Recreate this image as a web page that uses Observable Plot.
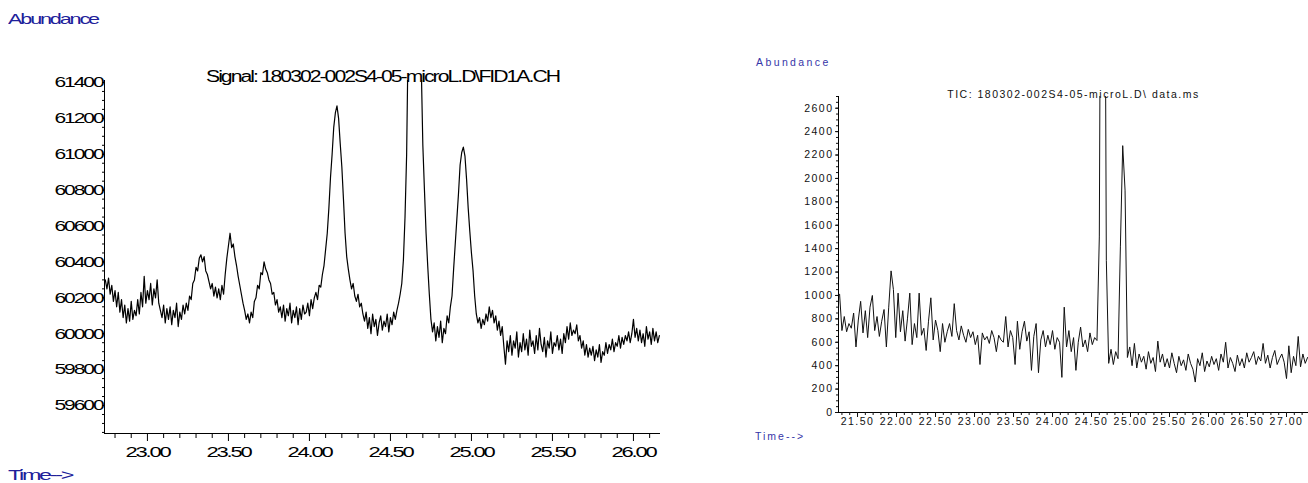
<!DOCTYPE html>
<html>
<head>
<meta charset="utf-8">
<script src="https://cdn.jsdelivr.net/npm/d3@7"></script>
<script src="https://cdn.jsdelivr.net/npm/@observablehq/plot@0.6"></script>
<style>
  html, body { margin: 0; padding: 0; background: #fff; }
  #page { position: relative; width: 1308px; height: 483px; overflow: hidden; background: #fff; }
  #page svg { position: absolute; top: 0; overflow: visible; }
  .lab { position: absolute; white-space: nowrap; line-height: 1; font-family: "Liberation Sans", Arial, sans-serif; transform-origin: 0 50%; }
</style>
</head>
<body>
<div id="page"></div>
<script>
// ---------- FID signal (left panel) ----------
const fidTitle = "Signal: 180302-002S4-05-microL.D\\FID1A.CH";
const fidStart = 22.74;   // first sample time, min
const fidStep = 0.01;     // sampling interval, min
const fidValues = [
  60300, 60250, 60310, 60220, 60270, 60180, 60240, 60150, 60230, 60120,
  60190, 60090, 60160, 60060, 60140, 60070, 60180, 60080, 60130, 60100,
  60190, 60110, 60230, 60150, 60320, 60170, 60240, 60190, 60280, 60160,
  60250, 60200, 60300, 60170, 60130, 60090, 60160, 60060, 60140, 60080,
  60150, 60050, 60130, 60090, 60170, 60040, 60120, 60080, 60160, 60110,
  60170, 60130, 60210, 60190, 60280, 60300, 60370, 60350, 60420, 60440,
  60400, 60430, 60350, 60330, 60290, 60250, 60280, 60210, 60260, 60200,
  60250, 60190, 60270, 60220, 60330, 60420, 60490, 60560, 60480, 60500,
  60430, 60380, 60320, 60270, 60220, 60170, 60130, 60080, 60110, 60060,
  60120, 60090, 60180, 60200, 60270, 60250, 60340, 60330, 60400, 60360,
  60340, 60300, 60280, 60220, 60230, 60160, 60190, 60120, 60150, 60090,
  60160, 60070, 60140, 60100, 60170, 60060, 60130, 60090, 60150, 60050,
  60140, 60080, 60160, 60110, 60120, 60170, 60100, 60190, 60140, 60200,
  60230, 60190, 60270, 60260, 60330, 60380, 60470, 60560, 60700, 60870,
  61000, 61150, 61230, 61270, 61200, 61060, 60930, 60750, 60560, 60430,
  60360, 60300, 60250, 60280, 60210, 60180, 60220, 60150, 60170, 60110,
  60070, 60120, 60030, 60090, 60000, 60110, 60040, 60080, 59990, 60060,
  60100, 60020, 60070, 60040, 60110, 60010, 60090, 60050, 60120, 60080,
  60130, 60170, 60220, 60280, 60410, 60650, 61000, 61700, 62500, 63200,
  63600, 63700, 63400, 62700, 62000, 61500, 61050, 60800, 60560, 60380,
  60220, 60080, 60010, 60060, 59960, 60040, 59980, 60070, 59950, 60030,
  60000, 60100, 60060, 60150, 60210, 60360, 60500, 60640, 60780, 60940,
  61010, 61040, 60990, 60860, 60700, 60570, 60450, 60350, 60210, 60110,
  60060, 60090, 60030, 60080, 60050, 60110, 60070, 60150, 60090, 60130,
  60060, 60100, 60020, 60070, 59990, 60040, 59930, 59830, 59960, 59900,
  59990, 59880, 59960, 59920, 60010, 59870, 59950, 59900, 60000, 59910,
  59970, 59880, 60020, 59930, 59960, 59890, 59990, 59910, 60030, 59940,
  59900, 59980, 59870, 59960, 59920, 60010, 59890, 59950, 59930, 59990,
  59910, 59970, 59890, 60000, 59950, 60040, 59970, 60060, 59990, 60020,
  60000, 60050, 59960, 59990, 59920, 59960, 59880, 59940, 59870, 59920,
  59880, 59930, 59850, 59910, 59870, 59940, 59840, 59900, 59880, 59950,
  59890, 59940, 59910, 59970, 59900, 59950, 59930, 59990, 59920, 59980,
  59940, 59990, 59960, 60010, 59950, 60000, 60080, 59980, 60030, 59960,
  60020, 59950, 60000, 59930, 60040, 59970, 60010, 59940, 60030, 59960,
  60010, 59950, 59990
];
const fidXDomain = [22.735, 26.167];
const fidYDomain = [59444, 61411];
const fidYTicks = [59600, 59800, 60000, 60200, 60400, 60600, 60800, 61000, 61200, 61400];
const fidXTicks = [23.0, 23.5, 24.0, 24.5, 25.0, 25.5, 26.0];

// ---------- Total ion chromatogram (right panel) ----------
const ticTitle = "TIC: 180302-002S4-05-microL.D\\ data.ms";
const ticStart = 21.27;
const ticStep = 0.03;
const ticValues = [
  1010, 700, 820, 690, 760, 720, 850, 560, 790, 950,
  680, 870, 640, 900, 1000, 700, 820, 650, 780, 880,
  560, 900, 1210, 1050, 640, 1020, 690, 870, 610, 800,
  1020, 580, 760, 640, 1020, 660, 720, 530, 780, 980,
  620, 790, 700, 520, 760, 600, 690, 760, 650, 930,
  700, 620, 740, 660, 600, 710, 640, 690, 580, 660,
  410, 680, 620, 650, 590, 700, 640, 520, 660, 620,
  600, 820, 560, 700, 640, 410, 780, 540, 690, 780,
  610, 690, 360, 650, 760, 340, 620, 700, 560, 660,
  580, 700, 540, 640, 600, 300, 900, 560, 700, 520,
  640, 360, 600, 730, 560, 620, 520, 680, 580, 640,
  615, 1500, 6400, 6200, 1300, 420, 540, 410, 520, 460,
  1415, 2280, 1900, 470, 560, 400, 590, 380, 500, 430,
  480, 370, 520, 420, 470, 350, 610, 430, 500, 390,
  460, 380, 510, 420, 340, 480, 400, 450, 360, 500,
  420, 370, 260, 460, 400, 510, 350, 440, 390, 480,
  410, 460, 360, 500, 430, 600, 380, 470, 420, 350,
  490, 400, 460, 380, 510, 430, 470, 520, 410, 480,
  440, 590, 420, 490, 380, 470, 530, 410, 460, 500,
  430, 290, 570, 340, 480, 400, 650, 390, 500, 420, 470
];
const ticXDomain = [21.256, 27.282];
const ticYDomain = [0, 2700];
const ticYTicks = [0, 200, 400, 600, 800, 1000, 1200, 1400, 1600, 1800, 2000, 2200, 2400, 2600];
const ticXTicks = [21.5, 22.0, 22.5, 23.0, 23.5, 24.0, 24.5, 25.0, 25.5, 26.0, 26.5, 27.0];

const fidData = fidValues.map((v, i) => ({time: fidStart + i * fidStep, abundance: v}));
const ticData = ticValues.map((v, i) => ({time: ticStart + i * ticStep, abundance: v}));

const fmt2 = d => d.toFixed(2);
const page = document.getElementById("page");

// ---------- left chart ----------
const fidPlot = Plot.plot({
  width: 710, height: 483,
  marginLeft: 104, marginRight: 50, marginTop: 80, marginBottom: 50,
  x: {domain: fidXDomain, label: null},
  y: {domain: fidYDomain, label: null},
  style: {fontFamily: "'Liberation Sans', Arial, sans-serif", fontSize: "15px", letterSpacing: "-1.5px", color: "#000", background: "transparent"},
  marks: [
    Plot.ruleX([fidXDomain[0]], {stroke: "#000"}),
    Plot.ruleY([fidYDomain[0]], {stroke: "#000"}),
    Plot.axisY({ticks: d3.range(59450, 61401, 50), tickSize: 2, tickFormat: () => "", label: null}),
    Plot.axisY({ticks: fidYTicks, tickSize: 2, tickPadding: 0, tickFormat: d => String(d), label: null}),
    Plot.axisX({ticks: d3.range(22.8, 26.15, 0.1).filter(t => Math.abs(t * 2 - Math.round(t * 2)) > 1e-6), tickSize: 5, tickFormat: () => "", label: null}),
    Plot.axisX({ticks: fidXTicks, tickSize: 8, tickPadding: 5, tickFormat: fmt2, label: null}),
    Plot.line(fidData, {x: "time", y: "abundance", stroke: "#000", strokeWidth: 1.2, clip: true}),
    Plot.text([fidTitle], {frameAnchor: "top", dy: -10, text: d => d, fontSize: 16, fill: "#000"})
  ]
});
fidPlot.style.left = "0px";
page.appendChild(fidPlot);

// ---------- right chart ----------
const ticPlot = Plot.plot({
  width: 598, height: 483,
  marginLeft: 128, marginRight: 0, marginTop: 96, marginBottom: 71,
  x: {domain: ticXDomain, label: null},
  y: {domain: ticYDomain, label: null},
  style: {fontFamily: "'Liberation Sans', Arial, sans-serif", fontSize: "10.5px", letterSpacing: "1.5px", color: "#111", background: "transparent"},
  marks: [
    Plot.ruleX([ticXDomain[0]], {stroke: "#000"}),
    Plot.ruleY([ticYDomain[0]], {stroke: "#000"}),
    Plot.axisY({ticks: d3.range(0, 2701, 50), tickSize: 2, tickFormat: () => "", label: null}),
    Plot.axisY({ticks: ticYTicks, tickSize: 3, tickPadding: 2, tickFormat: d => String(d), label: null}),
    Plot.axisX({ticks: d3.range(21.3, 27.29, 0.1), tickSize: 3, tickFormat: () => "", label: null}),
    Plot.axisX({ticks: ticXTicks, tickSize: 5, tickPadding: 0, tickFormat: fmt2, label: null}),
    Plot.line(ticData, {x: "time", y: "abundance", stroke: "#111", strokeWidth: 1, clip: true}),
    Plot.text([ticTitle], {frameAnchor: "top", dy: -6, text: d => d, fontSize: 10.5, fill: "#111"})
  ]
});
ticPlot.style.left = "710px";
page.appendChild(ticPlot);

// ---------- wide, tightly set lettering of the FID chart ----------
function stretchText(t, target) {
  t.setAttribute("textLength", target);
  t.setAttribute("lengthAdjust", "spacingAndGlyphs");
}
fidPlot.querySelectorAll("text").forEach(t => {
  const s = t.textContent;
  if (s === fidTitle) stretchText(t, 353);
  else if (/^\d{5}$/.test(s)) stretchText(t, 48);
  else if (/^\d\d\.\d\d$/.test(s)) stretchText(t, 44);
});

// ---------- axis captions ----------
function caption(text, left, centerY, size, color, spacing, targetWidth) {
  const el = document.createElement("div");
  el.className = "lab";
  el.textContent = text;
  el.style.left = left + "px";
  el.style.top = (centerY - size * 0.49) + "px";
  el.style.fontSize = size + "px";
  el.style.color = color;
  el.style.letterSpacing = spacing + "px";
  page.appendChild(el);
  if (targetWidth) {
    const w = el.getBoundingClientRect().width;
    if (w) el.style.transform = `scaleX(${(targetWidth / w).toFixed(3)})`;
  }
}
caption("Abundance", 8, 18, 15, "#20209a", -1.5, 90);
caption("Time-->", 8, 474, 15, "#20209a", -1.5, 64);
caption("Abundance", 756, 62, 10.5, "#3535a8", 2.4);
caption("Time-->", 755, 436, 10.5, "#3535a8", 2.0);
</script>
</body>
</html>
